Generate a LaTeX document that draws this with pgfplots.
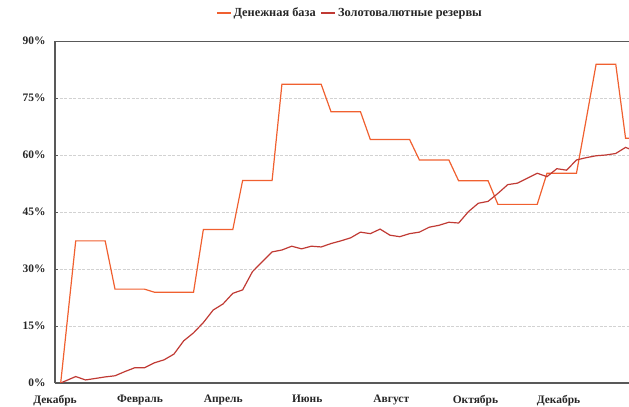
\documentclass[border=0pt]{standalone}
\usepackage{pgfplots}
\pgfplotsset{compat=1.18}
\usepackage{pgfplotstable}
\usepackage{fontspec}
\setmainfont{Liberation Serif}
\definecolor{cbase}{RGB}{240,96,48}
\definecolor{cres}{RGB}{192,58,52}
\definecolor{axgray}{RGB}{89,89,89}
\definecolor{gridgray}{RGB}{210,210,210}
\pgfplotstableread{
i base res
-1.53 0 0
0 37.4 1.7
1 37.4 0.8
2 37.4 1.2
3 37.4 1.6
4 24.7 1.9
5 24.7 3.0
6 24.7 4.0
7 24.7 4.0
8 23.9 5.3
9 23.9 6.1
10 23.9 7.6
11 23.9 11.1
12 23.9 13.2
13 40.4 15.9
14 40.4 19.2
15 40.4 20.8
16 40.4 23.6
17 53.3 24.5
18 53.3 29.3
19 53.3 31.9
20 53.3 34.5
21 78.6 35.0
22 78.6 36.0
23 78.6 35.3
24 78.6 36.0
25 78.6 35.8
26 71.4 36.7
27 71.4 37.4
28 71.4 38.2
29 71.4 39.7
30 64.1 39.3
31 64.1 40.5
32 64.1 38.9
33 64.1 38.5
34 64.1 39.3
35 58.7 39.7
36 58.7 41.0
37 58.7 41.5
38 58.7 42.3
39 53.2 42.1
40 53.2 45.1
41 53.2 47.3
42 53.2 47.8
43 47.0 49.9
44 47.0 52.2
45 47.0 52.6
46 47.0 53.9
47 47.0 55.2
48 55.2 54.3
49 55.2 56.4
50 55.2 56.0
51 55.2 58.7
52 69.5 59.3
53 83.9 59.8
54 83.9 60.0
55 83.9 60.4
56 64.4 62.0
57 64.4 61.0
}\datatable
\begin{document}
\begin{tikzpicture}
\useasboundingbox (0bp,0bp) rectangle (629bp,407bp);
\begin{axis}[
  at={(55bp,24bp)}, anchor=south west,
  scale only axis, width=574bp, height=342bp,
  xmin=-2.11, xmax=56.35, ymin=0, ymax=90,
  xtick={-2.11,6.55,15.02,23.58,32.14,40.71,49.17},
  xticklabels={Декабрь,Февраль,Апрель,Июнь,Август,Октябрь,Декабрь},
  ytick={0,15,30,45,60,75},
  yticklabels={0\%,15\%,30\%,45\%,60\%,75\%},
  extra y ticks={90}, extra y tick labels={90\%},
  extra y tick style={major grid style={solid, axgray, line width=0.8bp}},
  ymajorgrids,
  major grid style={gridgray, line width=0.7bp, dash pattern=on 3bp off 1.5bp},
  axis x line=bottom, axis y line=left,
  axis line style={-, axgray, line width=1.3bp},
  xtick style={draw=none},
  ytick style={axgray, line width=0.8bp},
  ytick align=inside, major tick length=3bp,
  tick label style={font=\fontsize{11.5}{13}\selectfont\bfseries, text=black!85},
  xticklabel style={yshift=-7bp},
  yticklabel style={xshift=-6bp},
  legend style={at={(0.514,1.082)}, anchor=center, draw=none, fill=none,
    legend columns=2, font=\fontsize{12.4}{14}\selectfont\bfseries,
    text=black!85, inner sep=0pt,
    /tikz/every even column/.append style={column sep=3bp}},
  legend image code/.code={\draw[#1, line width=1.3bp] (0bp,0bp) -- (14bp,0bp);},
  clip=true,
]
\addplot[cbase, line width=1.2bp] table[x=i, y=base] {\datatable};
\addlegendentry{Денежная база}
\addplot[cres, line width=1.2bp] table[x=i, y=res] {\datatable};
\addlegendentry{Золотовалютные резервы}
\end{axis}
\end{tikzpicture}
\end{document}
